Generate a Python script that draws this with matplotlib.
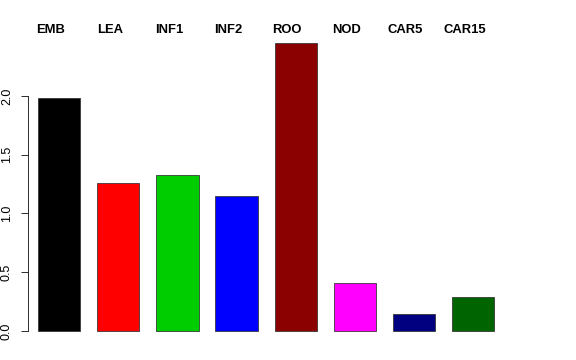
import matplotlib
matplotlib.use("Agg")
import matplotlib.pyplot as plt
import numpy as np

categories = ["EMB", "LEA", "INF1", "INF2", "ROO", "NOD", "CAR5", "CAR15"]
values = [1.98, 1.26, 1.33, 1.15, 2.45, 0.41, 0.145, 0.29]
colors = ["#000000", "#FF0000", "#00CD00", "#0000FF", "#8B0000", "#FF00FF", "#000080", "#006400"]
yticks = [0.0, 0.5, 1.0, 1.5, 2.0]
ytick_labels = ["0.0", "0.5", "1.0", "1.5", "2.0"]

plt.rcParams["font.family"] = ["Liberation Sans", "DejaVu Sans"]

fig = plt.figure(figsize=(8, 5), dpi=72)
W, H = 576, 360
left_px, right_px, top_px, bot_px = 28, 560, 31.6, 342.5
ppu = 42.25
ax = fig.add_axes([left_px / W, (H - bot_px) / H, (right_px - left_px) / W, (bot_px - top_px) / H])

width = 1.0
space = 0.4
x = np.arange(len(categories)) * (width + space) + space + width / 2
ax.bar(x, values, width=width, color=colors, edgecolor="#333333", linewidth=0.8)

ax.set_xlim(0.4 - 10 / ppu, 0.4 - 10 / ppu + (right_px - left_px) / ppu)
ax.set_ylim(-0.098, 2.548)

for xi, lab in zip(x, categories):
    ax.text(xi - 0.2, 2.536, lab, ha="center", va="baseline", fontsize=13,
            fontweight="bold", clip_on=False)

for s in ["top", "right", "bottom"]:
    ax.spines[s].set_visible(False)
ax.spines["left"].set_bounds(0, 2.0)
ax.spines["left"].set_linewidth(0.8)
ax.set_xticks([])
ax.set_yticks(yticks)
ax.set_yticklabels(ytick_labels, rotation=90, va="center", fontsize=12.5)
ax.tick_params(axis="y", length=7, width=0.8, pad=8)

fig.savefig("out.png", dpi=72)
